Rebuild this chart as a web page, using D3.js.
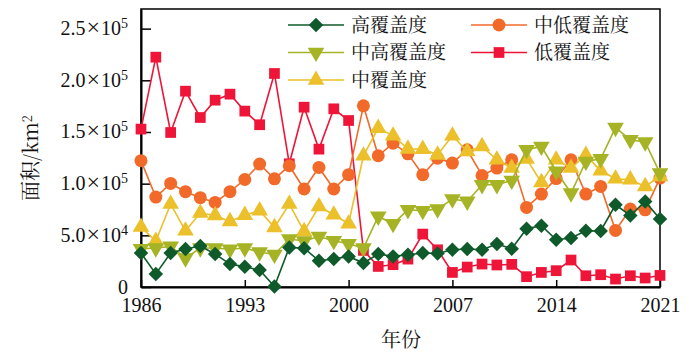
<!DOCTYPE html>
<html>
<head>
<meta charset="utf-8">
<script src="https://cdn.jsdelivr.net/npm/d3@7"></script>
<style>
  body { margin: 0; background: #fff; }
  svg { display: block; }
</style>
</head>
<body>
<script>
// data
const years = d3.range(1986, 2022);

const high = [32900, 12600, 32900, 36700, 39600, 31900, 22200, 19600, 16400, 500,
  38300, 37500, 25400, 27100, 29600, 23200, 31900, 29600, 31200, 32900,
  32500, 36100, 36700, 36100, 41600, 37000, 56400, 59300, 45700, 47400,
  54400, 54200, 79600, 69200, 82800, 65800];

const midHigh = [37000, 37700, 39300, 28000, 37700, 37700, 36500, 37700, 33800, 31500,
  46400, 44500, 48900, 44800, 41900, 37700, 68300, 61200, 74700, 73800,
  75400, 85100, 82800, 98900, 98900, 103100, 132800, 136000, 112000, 90900,
  121500, 124000, 154300, 142400, 140200, 110200];

const mid = [58000, 44500, 80300, 54400, 71600, 69200, 63400, 69600, 73800, 57700,
  80300, 53800, 77900, 69900, 61200, 127000, 153700, 146300, 133700, 133400,
  127900, 146300, 131100, 136000, 123100, 115100, 124000, 101200, 123100, 115100,
  127600, 112500, 104700, 103800, 97300, 107000];

const midLow = [122200, 87000, 100200, 92200, 86400, 81800, 92200, 104000, 118900, 104700,
  117300, 94800, 115700, 94800, 108700, 175300, 127000, 139200, 128900, 108600,
  124700, 119900, 132800, 107900, 115100, 123100, 77000, 89900, 104900, 123100,
  89900, 97300, 54700, 75400, 74700, 105400];

const low = [152800, 222400, 149500, 189500, 164000, 180800, 186600, 170200, 157000, 206600,
  119200, 174000, 133400, 172400, 161100, 35400, 19900, 21600, 27000, 51200,
  36000, 14100, 19300, 22200, 21300, 21900, 10000, 14100, 15800, 26100,
  10900, 11900, 7700, 10900, 8700, 11200];

const seriesNames = ["高覆盖度", "中高覆盖度", "中覆盖度", "中低覆盖度", "低覆盖度"];
const seriesColors = ["#0f5a2a", "#a5b325", "#ebc02a", "#f26a2a", "#ee1538"];
const seriesSymbols = ["diamond", "down", "up", "circle", "square"];

const xTicks = [1986, 1993, 2000, 2007, 2014, 2021];
const yTicks = [0, 50000, 100000, 150000, 200000, 250000];
const yTickMant = ["0", "5.0", "1.0", "1.5", "2.0", "2.5"];
const yTickExp = ["", "4", "5", "5", "5", "5"];

const W = 700, H = 358;
const margin = { top: 9, right: 40, bottom: 71, left: 141 };
const innerW = W - margin.left - margin.right;
const innerH = H - margin.top - margin.bottom;

const svg = d3.select("body").append("svg")
  .attr("width", W)
  .attr("height", H);

const g = svg.append("g")
  .attr("transform", `translate(${margin.left},${margin.top})`);

const x = d3.scaleLinear().domain([1986, 2021]).range([0, innerW]);
const y = d3.scaleLinear().domain([0, 269000]).range([innerH, 0]);

const serif = "'Liberation Serif', 'Times New Roman', serif";
const cjk = "'Noto Serif CJK SC', 'Noto Sans CJK SC', sans-serif";

// frame
g.append("rect")
  .attr("width", innerW)
  .attr("height", innerH)
  .attr("fill", "none")
  .attr("stroke", "#000")
  .attr("stroke-width", 1.5);

// axes, ticks pointing inward
const xAxisG = g.append("g")
  .attr("transform", `translate(0,${innerH})`)
  .call(d3.axisBottom(x).tickValues(xTicks).tickFormat(d3.format("d"))
    .tickSizeInner(-7).tickSizeOuter(0).tickPadding(11));

const yAxisG = g.append("g")
  .call(d3.axisLeft(y).tickValues(yTicks).tickFormat("")
    .tickSizeInner(-10).tickSizeOuter(0).tickPadding(13));

[xAxisG, yAxisG].forEach(a => {
  a.select(".domain").attr("stroke", "#000").attr("stroke-width", 2);
  a.selectAll(".tick line").attr("stroke", "#000").attr("stroke-width", 1.5);
  a.selectAll("text")
    .attr("fill", "#111")
    .style("font-family", serif)
    .style("font-size", "20px");
});

yAxisG.selectAll(".tick text").each(function (d, i) {
  const t = d3.select(this);
  t.attr("dy", "0.3em");
  t.append("tspan").text(yTickMant[i]);
  if (yTickExp[i]) {
    t.append("tspan").attr("dx", 1).style("font-size", "24px").text("×");
    t.append("tspan").attr("dx", 1).text("10");
    t.append("tspan")
      .attr("dy", "-0.5em")
      .style("font-size", "14px")
      .text(yTickExp[i]);
  }
});

// axis titles
svg.append("text")
  .attr("transform", "translate(38,158) rotate(-90)")
  .attr("text-anchor", "middle")
  .style("font-family", cjk)
  .style("font-size", "20px")
  .attr("fill", "#111")
  .html("面积/km<tspan dy='-0.5em' font-size='13px'>2</tspan>");

svg.append("text")
  .attr("x", 401)
  .attr("y", 347)
  .attr("text-anchor", "middle")
  .style("font-family", cjk)
  .style("font-size", "20px")
  .attr("fill", "#111")
  .text("年份");

// markers
function drawMarker(sel, kind, color) {
  if (kind === "circle") {
    sel.append("circle").attr("r", 6.5).attr("fill", color);
  } else {
    const sym = {
      diamond: d3.symbol().type(d3.symbolSquare).size(105),
      square: d3.symbol().type(d3.symbolSquare).size(115),
      up: d3.symbol().type(d3.symbolTriangle).size(120),
      down: d3.symbol().type(d3.symbolTriangle).size(120)
    }[kind];
    const p = sel.append("path").attr("d", sym()).attr("fill", color);
    if (kind === "diamond") p.attr("transform", "rotate(45)");
    if (kind === "down") p.attr("transform", "rotate(180)");
  }
}

const seriesData = [high, midHigh, mid, midLow, low];
const line = d3.line().x((d, i) => x(years[i])).y(d => y(d));

// draw low coverage first so high coverage sits on top
for (let s = seriesData.length - 1; s >= 0; s--) {
  const vals = seriesData[s];
  const sg = g.append("g");
  sg.append("path")
    .datum(vals)
    .attr("d", line)
    .attr("fill", "none")
    .attr("stroke", seriesColors[s])
    .attr("stroke-width", 1.6);
  sg.selectAll("g.pt")
    .data(vals)
    .enter()
    .append("g")
    .attr("class", "pt")
    .attr("transform", (d, i) => `translate(${x(years[i])},${y(d)})`)
    .each(function () { drawMarker(d3.select(this), seriesSymbols[s], seriesColors[s]); });
}

// legend (two columns)
const legendPos = [
  { x: 288, y: 25 },   // 高
  { x: 288, y: 52.5 }, // 中高
  { x: 288, y: 80 },   // 中
  { x: 471, y: 25 },   // 中低
  { x: 471, y: 52.5 }  // 低
];

seriesNames.forEach((name, s) => {
  const lg = svg.append("g")
    .attr("transform", `translate(${legendPos[s].x},${legendPos[s].y})`);
  lg.append("line")
    .attr("x1", 0).attr("x2", 56)
    .attr("stroke", seriesColors[s])
    .attr("stroke-width", 1.6);
  drawMarker(lg.append("g").attr("transform", "translate(28,0)"), seriesSymbols[s], seriesColors[s]);
  lg.append("text")
    .attr("x", 63)
    .attr("dy", "0.36em")
    .style("font-family", cjk)
    .style("font-size", "19px")
    .attr("fill", "#111")
    .text(name);
});
</script>
</body>
</html>
